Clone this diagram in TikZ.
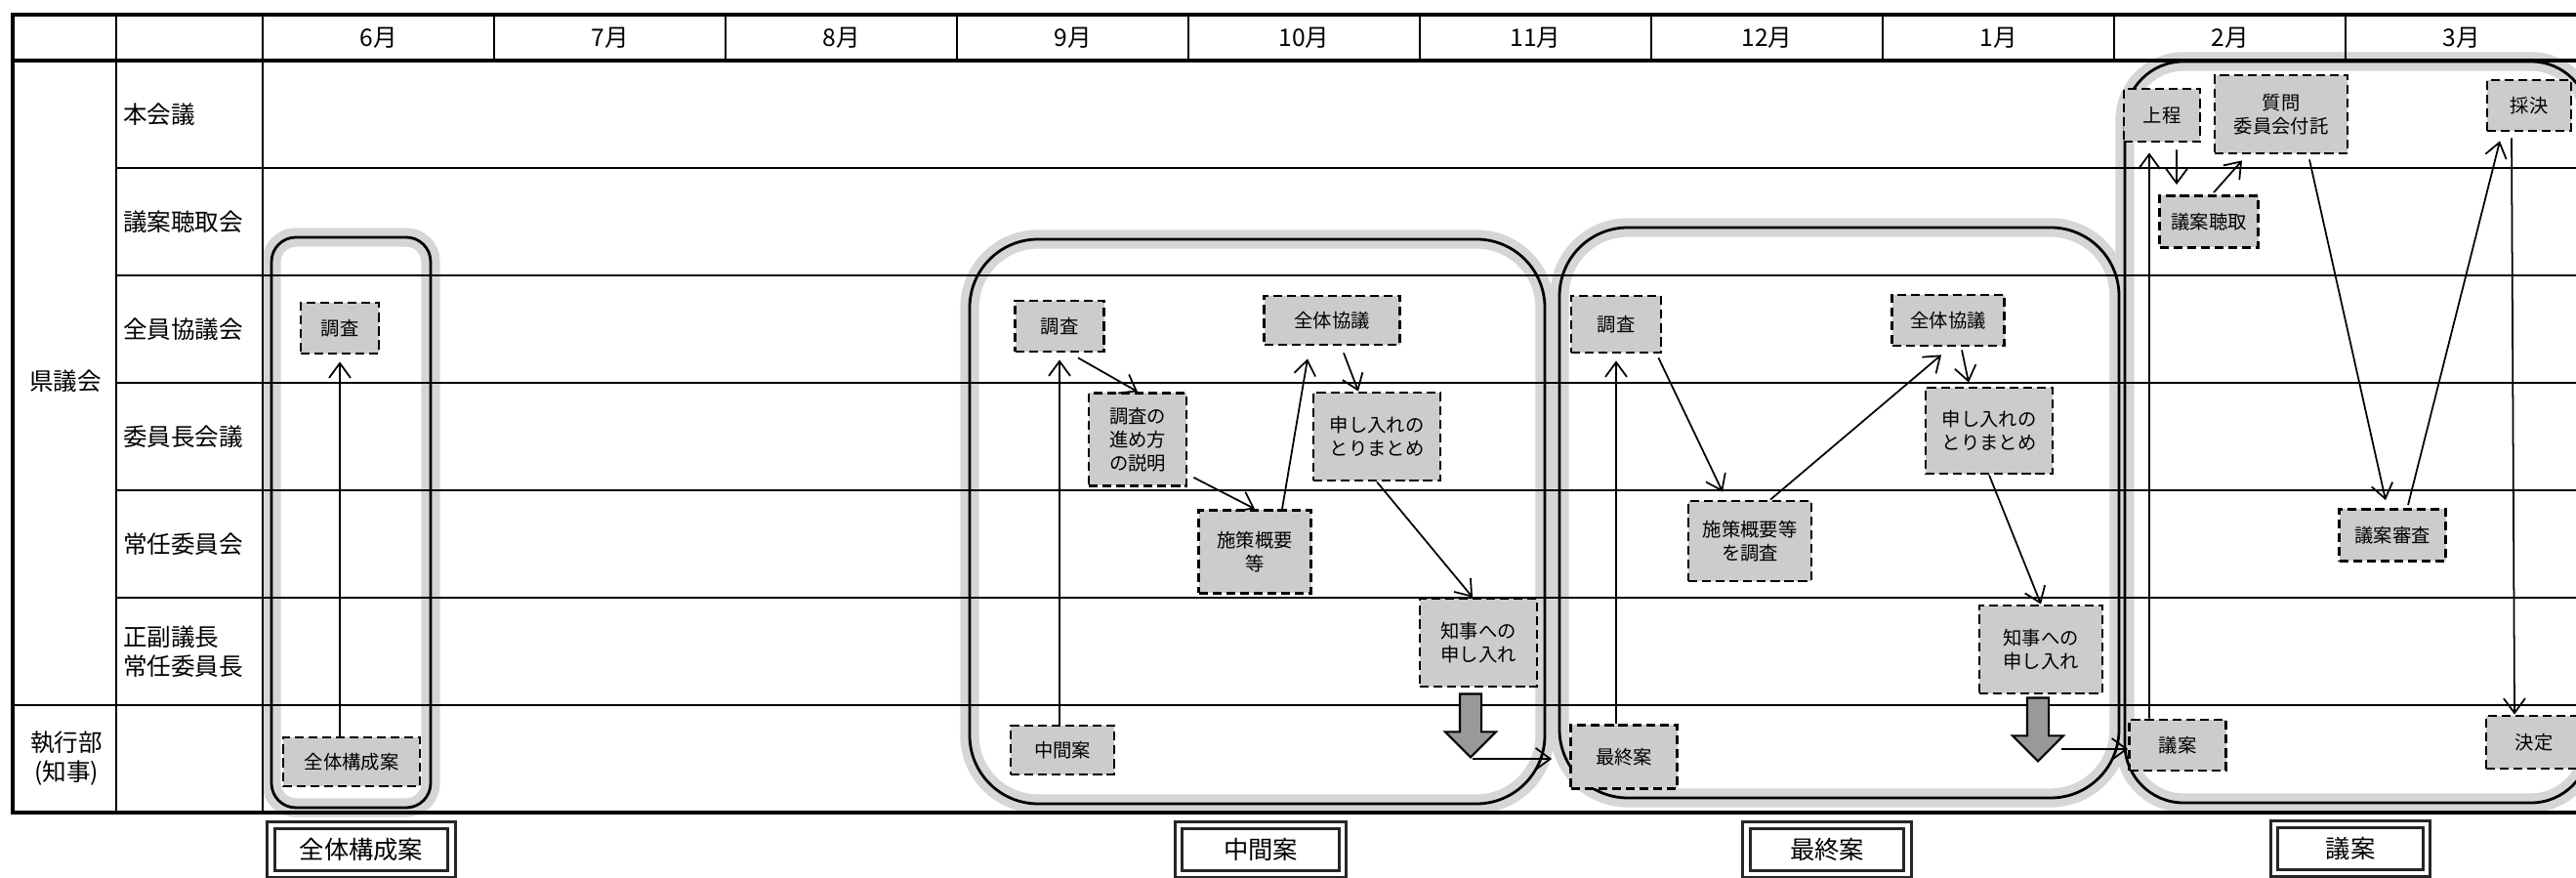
\documentclass[tikz,border=0pt]{standalone}
\usepackage{fontspec}
\setmainfont{Noto Sans CJK JP}
\usetikzlibrary{arrows.meta, positioning, shapes.arrows}
\tikzset{
  every picture/.style={line width=0.6pt},
  rowlabel/.style={font=\fontsize{7}{8.5}\selectfont, align=left, anchor=west, inner sep=0pt},
  month/.style={font=\fontsize{7}{8}\selectfont, inner sep=0pt},
  task/.style={draw, dash pattern=on 2.6pt off 1.4pt, fill=black!20, align=center, inner sep=1pt,
    font=\fontsize{5.5}{6.8}\selectfont, line width=0.8pt},
  phase/.style={draw, rounded corners=#1, line width=0.8pt},
  halo/.style={draw=black!16, rounded corners=#1, line width=5.5pt},
  stage/.style={draw=black!85, double, double distance=1.3pt, line width=0.8pt, minimum height=0.5cm,
    font=\fontsize{7.2}{8}\selectfont},
  arrow/.style={-{Straight Barb[length=1.5mm, width=2.2mm]}, line width=0.5pt},
  bigdown/.style={single arrow, shape border rotate=270, draw, fill=black!40, minimum height=0.65cm,
    inner sep=0.1cm, single arrow head extend=0.15cm},
}

\begin{document}
\begin{tikzpicture}
  \useasboundingbox (0,0) rectangle (26.38,-8.99);
  % halo of the phase outlines
  \draw[halo=0.25cm] (2.78,-2.43) rectangle (4.41,-8.27);
  \draw[halo=0.7cm] (9.93,-2.45) rectangle (15.82,-8.23);
  \draw[halo=0.7cm] (15.97,-2.33) rectangle (21.70,-8.17);
  \draw[halo=0.6cm] (21.76,-0.63) rectangle (26.52,-8.22);
  % table
  \draw[line width=1pt] (0.13,-0.15) rectangle (26.45,-8.32);
  \draw[line width=1pt] (0.13,-0.62) -- (26.45,-0.62);
  \draw (1.19,-0.15) -- (1.19,-8.32);
  \draw (2.69,-0.15) -- (2.69,-8.32);
  \foreach \i in {1,...,9}
    \draw (2.69+2.37*\i,-0.15) -- (2.69+2.37*\i,-0.62);
  \foreach \r in {1,...,5}
    \draw (1.19,-0.62-1.1*\r) -- (26.45,-0.62-1.1*\r);
  \draw (0.13,-7.22) -- (26.45,-7.22);
  \foreach \m [count=\i from 0] in {6,7,8,9,10,11,12,1,2,3}
    \node[month] (m\i) at (3.875+2.37*\i,-0.39) {\m 月};
  \node[rowlabel, anchor=center] (pref) at (0.67,-3.90) {県議会};
  \node[rowlabel, anchor=center, align=center] (exec) at (0.68,-7.77) {執行部\\(知事)};
  \foreach \t [count=\r from 0] in {本会議, 議案聴取会, 全員協議会, 委員長会議, 常任委員会, {正副議長\\常任委員長}}
    \node[rowlabel] (row\r) at (1.25,-1.17-1.1*\r) {\t};
  % phase outlines
  \draw[phase=0.25cm] (2.78,-2.43) rectangle (4.41,-8.27);
  \draw[phase=0.7cm] (9.93,-2.45) rectangle (15.82,-8.23);
  \draw[phase=0.7cm] (15.97,-2.33) rectangle (21.70,-8.17);
  \draw[phase=0.6cm] (21.76,-0.63) rectangle (26.52,-8.22);

  % whole outline
  \node[task, minimum width=0.8cm, minimum height=0.52cm] (g1survey) at (3.48,-3.36) {調査};
  \node[task, minimum width=1.4cm, minimum height=0.5cm] (g1draft) at (3.60,-7.80) {全体構成案};
  \draw[arrow, shorten >=2pt] (g1draft.north -| g1survey.south) -- (g1survey.south);

  % interim draft
  \node[task, minimum width=0.91cm, minimum height=0.52cm] (g2survey) at (10.85,-3.34) {調査};
  \node[task, minimum width=1.0cm, minimum height=0.95cm] (g2explain) at (11.65,-4.50) {調査の\\進め方\\の説明};
  \node[task, minimum width=1.15cm, minimum height=0.85cm] (g2policy) at (12.85,-5.65) {施策概要\\等};
  \node[task, minimum width=1.39cm, minimum height=0.5cm] (g2council) at (13.64,-3.28) {全体協議};
  \node[task, minimum width=1.3cm, minimum height=0.9cm] (g2compile) at (14.10,-4.47) {申し入れの\\とりまとめ};
  \node[task, minimum width=1.2cm, minimum height=0.9cm] (g2request) at (15.14,-6.58) {知事への\\申し入れ};
  \node[task, minimum width=1.06cm, minimum height=0.5cm] (g2draft) at (10.88,-7.68) {中間案};
  \node[bigdown, below=0.05cm of g2request, xshift=-0.08cm] (g2down) {};
  \draw[arrow, shorten >=2pt] (g2draft.north -| g2survey.south) -- (g2survey.south);
  \draw[arrow] ([xshift=0.19cm,yshift=-0.05cm]g2survey.south) -- (g2explain.north);
  \draw[arrow] ([xshift=0.06cm,yshift=0.1cm]g2explain.south east) -- (g2policy.north);
  \draw[arrow] ([xshift=0.28cm]g2policy.north) -- ([xshift=-0.25cm,yshift=-0.13cm]g2council.south);
  \draw[arrow] ([xshift=0.12cm,yshift=-0.07cm]g2council.south) -- ([xshift=-0.19cm]g2compile.north);
  \draw[arrow] (g2compile.south) -- ([xshift=-0.06cm]g2request.north);

  % final draft
  \node[task, minimum width=0.92cm, minimum height=0.58cm] (g3survey) at (16.55,-3.32) {調査};
  \node[task, minimum width=1.26cm, minimum height=0.82cm] (g3policy) at (17.92,-5.54) {施策概要等\\を調査};
  \node[task, minimum width=1.15cm, minimum height=0.52cm] (g3council) at (19.95,-3.28) {全体協議};
  \node[task, minimum width=1.3cm, minimum height=0.88cm] (g3compile) at (20.37,-4.41) {申し入れの\\とりまとめ};
  \node[task, minimum width=1.26cm, minimum height=0.9cm] (g3request) at (20.90,-6.65) {知事への\\申し入れ};
  \node[task, minimum width=1.09cm, minimum height=0.65cm] (g3final) at (16.63,-7.75) {最終案};
  \node[bigdown, below=0.02cm of g3request, xshift=-0.03cm] (g3down) {};
  \coordinate (g2hook) at (15.08,-7.77);
  \draw[arrow, shorten >=0.18cm] (g2hook) -- (g2hook -| g3final.west);
  \draw[arrow, shorten >=2pt] (g3final.north -| g3survey.south) -- (g3survey.south);
  \draw[arrow] ([xshift=-0.04cm,yshift=-0.04cm]g3survey.south east) -- ([xshift=-0.28cm,yshift=0.08cm]g3policy.north);
  \draw[arrow] ([xshift=0.21cm]g3policy.north) -- ([xshift=-0.07cm,yshift=-0.08cm]g3council.south);
  \draw[arrow] ([xshift=0.14cm,yshift=-0.03cm]g3council.south) -- ([xshift=-0.21cm,yshift=0.04cm]g3compile.north);
  \draw[arrow] (g3compile.south) -- (g3request.north);

  % bill
  \node[task, minimum width=0.78cm, minimum height=0.54cm] (g4table) at (22.14,-1.18) {上程};
  \node[task, minimum width=1.36cm, minimum height=0.8cm] (g4refer) at (23.36,-1.17) {質問\\委員会付託};
  \node[task, minimum width=0.86cm, minimum height=0.52cm] (g4vote) at (25.90,-1.08) {採決};
  \node[task, minimum width=1.01cm, minimum height=0.53cm] (g4hear) at (22.62,-2.27) {議案聴取};
  \node[task, minimum width=1.09cm, minimum height=0.53cm] (g4review) at (24.50,-5.48) {議案審査};
  \node[task, minimum width=0.99cm, minimum height=0.52cm] (g4bill) at (22.30,-7.63) {議案};
  \node[task, minimum width=0.98cm, minimum height=0.54cm] (g4decide) at (25.95,-7.60) {決定};
  \coordinate (g3hook) at (21.11,-7.67);
  \draw[arrow] (g3hook) -- (g3hook -| g4bill.west);
  \draw[arrow, shorten >=0.1cm] ([xshift=-0.29cm]g4bill.north) -- ([xshift=-0.13cm]g4table.south);
  \draw[arrow, shorten >=0.1cm] ([xshift=0.15cm,yshift=-0.07cm]g4table.south) -- ([xshift=-0.33cm]g4hear.north);
  \draw[arrow] ([xshift=0.05cm,yshift=0.02cm]g4hear.north) -- ([xshift=-0.40cm,yshift=-0.06cm]g4refer.south);
  \draw[arrow] ([xshift=0.29cm,yshift=-0.05cm]g4refer.south) -- ([xshift=-0.07cm,yshift=0.08cm]g4review.north);
  \draw[arrow] ([xshift=0.16cm,yshift=0.03cm]g4review.north) -- ([xshift=-0.30cm,yshift=-0.09cm]g4vote.south);
  \draw[arrow] ([xshift=-0.18cm,yshift=-0.06cm]g4vote.south) -- ([xshift=-0.20cm]g4decide.north);

  % stage labels
  \node[stage, minimum width=1.85cm] (s1) at (3.70,-8.70) {全体構成案};
  \node[stage, minimum width=1.68cm] (s2) at (12.91,-8.70) {中間案};
  \node[stage, minimum width=1.65cm] (s3) at (18.71,-8.70) {最終案};
  \node[stage, minimum width=1.56cm] (s4) at (24.07,-8.69) {議案};
\end{tikzpicture}
\end{document}
